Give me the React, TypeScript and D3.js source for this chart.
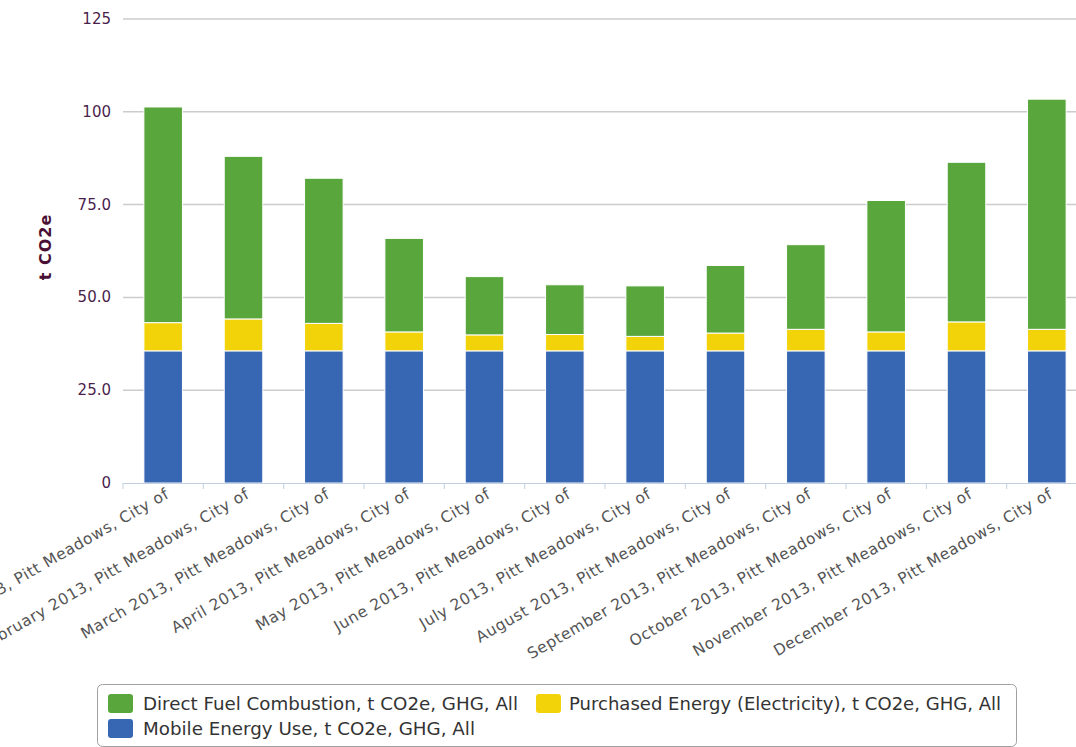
import React from "react";
import * as d3 from "d3";

const months = ["January", "February", "March", "April", "May", "June", "July", "August", "September", "October", "November", "December"];
const categories = months.map((m) => `${m} 2013, Pitt Meadows, City of`);

const mobileEnergy = [35.6, 35.6, 35.6, 35.6, 35.6, 35.6, 35.6, 35.6, 35.6, 35.6, 35.6, 35.6];
const purchasedEnergy = [7.6, 8.6, 7.4, 5.1, 4.3, 4.4, 3.9, 4.8, 5.8, 5.1, 7.8, 5.8];
const directFuel = [58.1, 43.8, 39.1, 25.2, 15.7, 13.4, 13.6, 18.2, 22.8, 35.4, 43.0, 62.0];

const yTicks = [0, 25, 50, 75, 100, 125];
const yTickLabels = ["0", "25.0", "50.0", "75.0", "100", "125"];

const seriesNames = [
  "Mobile Energy Use, t CO2e, GHG, All",
  "Purchased Energy (Electricity), t CO2e, GHG, All",
  "Direct Fuel Combustion, t CO2e, GHG, All",
];
const colors = ["#3766b3", "#f2d30a", "#59a63c"];

export default function App() {
  const W = 1076, H = 747;
  const left = 123, right = 1087, top = 19, bottom = 483;
  const x = d3.scaleBand<string>().domain(categories).range([left, right]).paddingInner(0.52).paddingOuter(0.26);
  const y = d3.scaleLinear().domain([0, 125]).range([bottom, top]);

  const rows = categories.map((c, i) => ({ c, s0: mobileEnergy[i], s1: purchasedEnergy[i], s2: directFuel[i] }));
  const stack = d3.stack<any>().keys(["s0", "s1", "s2"]);
  const stacked = stack(rows);
  const step = x.step();
  const font = "Tahoma, 'DejaVu Sans', Verdana, sans-serif";

  return (
    <svg width={W} height={H} style={{ position: "absolute", left: 0, top: 0, background: "#fff" }} fontFamily={font}>
      {yTicks.slice(1).map((t) => (
        <line key={t} x1={left} x2={W} y1={y(t)} y2={y(t)} stroke="#cccccc" strokeWidth={1.5} />
      ))}
      {yTicks.map((t, i) => (
        <text key={"l" + t} x={111} y={y(t) + 5} textAnchor="end" fontSize={15} fill="#4a1f4d">
          {yTickLabels[i]}
        </text>
      ))}
      <text transform={`translate(51,247) rotate(-90)`} textAnchor="middle" fontSize={16} fontWeight="bold" fill="#4a0f35" letterSpacing={1}>
        t CO2e
      </text>
      {stacked.map((layer, li) => (
        <g key={li} fill={colors[li]}>
          {layer.map((d: any, i: number) => (
            <rect key={i} x={x(categories[i])} width={x.bandwidth()} y={y(d[1])} height={y(d[0]) - y(d[1])} stroke="#ffffff" strokeWidth={1} />
          ))}
        </g>
      ))}
      <line x1={left} x2={W} y1={bottom + 0.5} y2={bottom + 0.5} stroke="#c0d0e0" strokeWidth={1} />
      {d3.range(categories.length + 1).map((i) => (
        <line key={"t" + i} x1={left + i * step} x2={left + i * step} y1={bottom} y2={bottom + 6} stroke="#c0d0e0" />
      ))}
      {categories.map((c) => (
        <text key={c} transform={`translate(${(x(c) as number) + x.bandwidth() / 2 + 7},${bottom + 14}) rotate(-30)`} textAnchor="end" fontSize={15.5} fill="#555555" letterSpacing={0.6}>
          {c}
        </text>
      ))}
      <rect x={97.5} y={684.5} width={919} height={62} rx={5} fill="#fff" stroke="#a0a0a0" strokeWidth={1} />
      {[
        { name: seriesNames[2], color: colors[2], sx: 108, sy: 694, tx: 143, tw: 375 },
        { name: seriesNames[1], color: colors[1], sx: 536, sy: 694, tx: 569, tw: 432 },
        { name: seriesNames[0], color: colors[0], sx: 108, sy: 719, tx: 143, tw: 332 },
      ].map((l) => (
        <g key={l.name}>
          <rect x={l.sx} y={l.sy} width={25} height={19} rx={3} fill={l.color} />
          <text x={l.tx} y={l.sy + 16} fontSize={17} fill="#333333" textLength={l.tw} lengthAdjust="spacingAndGlyphs">
            {l.name}
          </text>
        </g>
      ))}
    </svg>
  );
}
